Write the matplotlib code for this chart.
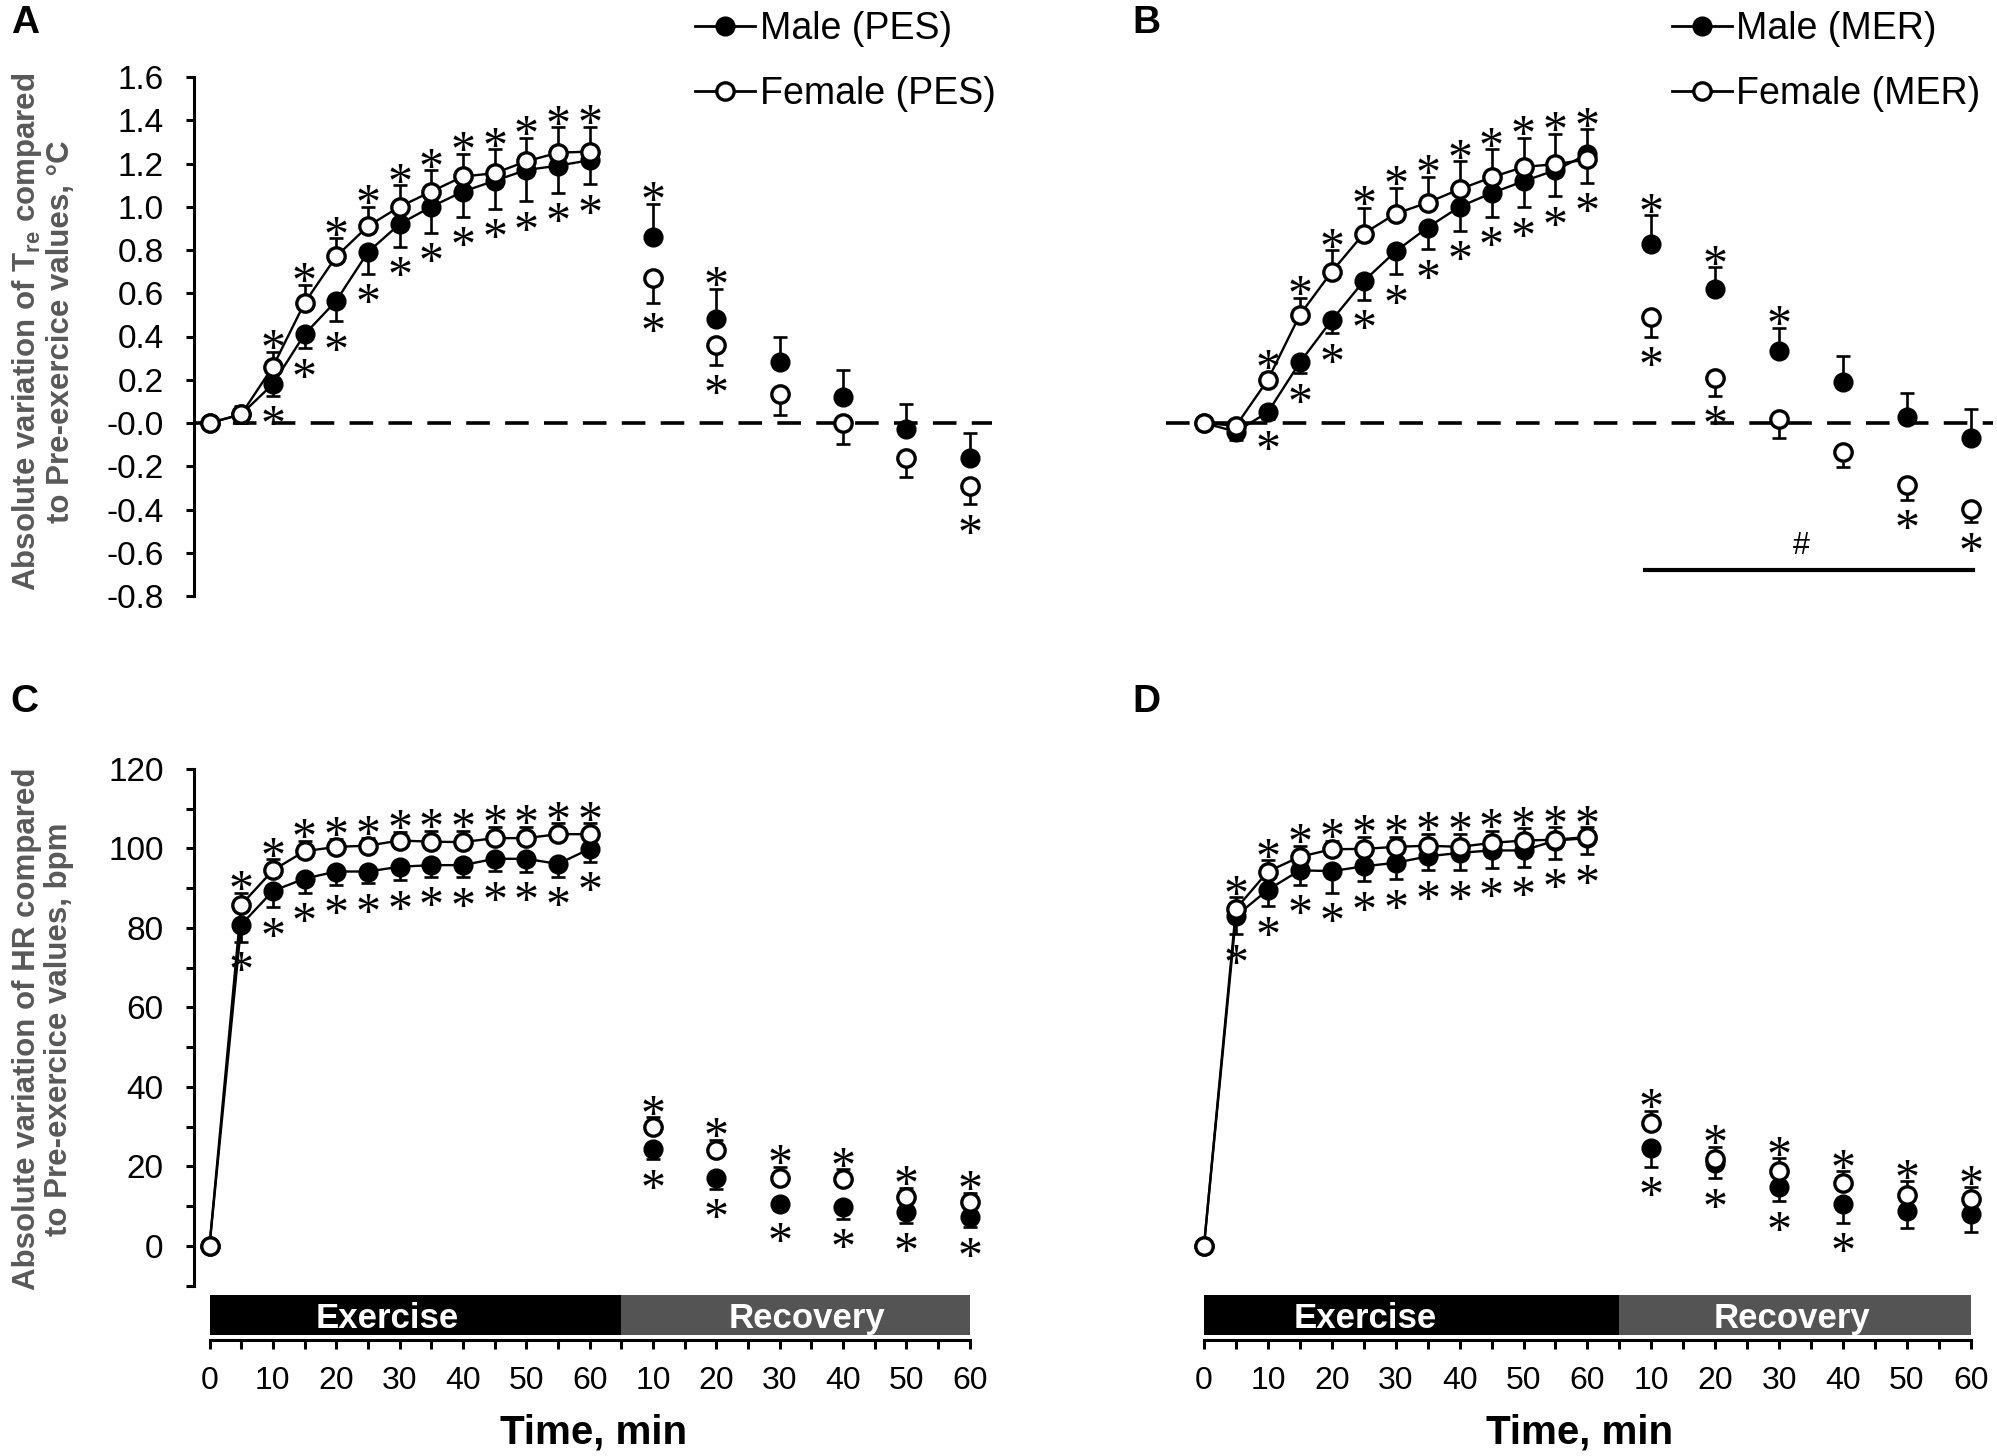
import matplotlib
matplotlib.use("Agg")
import matplotlib.pyplot as plt
from matplotlib.lines import Line2D
import numpy as np

plt.rcParams['font.family'] = ['Liberation Sans', 'DejaVu Sans']
plt.rcParams['axes.unicode_minus'] = False
plt.rcParams['lines.scale_dashes'] = False

# ---------------- data ----------------
ex_time = [0, 5, 10, 15, 20, 25, 30, 35, 40, 45, 50, 55, 60]
rec_time = [10, 20, 30, 40, 50, 60]

# Panel A: Tre, PES
male_pes_ex = [0, 0.04, 0.18, 0.41, 0.565, 0.79, 0.92, 1.00, 1.07, 1.12, 1.17, 1.19, 1.215]
female_pes_ex = [0, 0.04, 0.26, 0.555, 0.77, 0.91, 1.00, 1.07, 1.14, 1.155, 1.21, 1.25, 1.255]
male_pes_rec = [0.86, 0.48, 0.28, 0.12, -0.03, -0.16]
female_pes_rec = [0.67, 0.36, 0.134, 0.0, -0.16, -0.29]
male_pes_ex_se = [0, 0.04, 0.055, 0.065, 0.095, 0.10, 0.105, 0.12, 0.117, 0.13, 0.144, 0.125, 0.11]
female_pes_ex_se = [0, 0.04, 0.07, 0.085, 0.085, 0.09, 0.10, 0.10, 0.106, 0.11, 0.11, 0.117, 0.116]
male_pes_rec_se = [0.153, 0.14, 0.12, 0.125, 0.118, 0.114]
female_pes_rec_se = [0.115, 0.09, 0.097, 0.095, 0.09, 0.086]
male_pes_sig = [0, 0, 1, 1, 1, 1, 1, 1, 1, 1, 1, 1, 1] + [1, 1, 0, 0, 0, 0]
female_pes_sig = [0, 0, 1, 1, 1, 1, 1, 1, 1, 1, 1, 1, 1] + [1, 1, 0, 0, 0, 1]

# Panel B: Tre, MER
male_mer_ex = [0, -0.04, 0.05, 0.28, 0.476, 0.656, 0.794, 0.904, 1.0, 1.063, 1.118, 1.169, 1.243]
female_mer_ex = [0, -0.013, 0.20, 0.50, 0.70, 0.876, 0.968, 1.019, 1.081, 1.136, 1.184, 1.197, 1.219]
male_mer_rec = [0.83, 0.62, 0.332, 0.189, 0.027, -0.068]
female_mer_rec = [0.49, 0.21, 0.018, -0.132, -0.288, -0.398]
male_mer_ex_se = [0, 0.04, 0.03, 0.05, 0.06, 0.086, 0.107, 0.10, 0.11, 0.11, 0.12, 0.12, 0.115]
female_mer_ex_se = [0, 0.02, 0.03, 0.08, 0.10, 0.12, 0.12, 0.12, 0.13, 0.13, 0.136, 0.14, 0.108]
male_mer_rec_se = [0.13, 0.10, 0.108, 0.12, 0.11, 0.132]
female_mer_rec_se = [0.09, 0.085, 0.086, 0.073, 0.068, 0.06]
male_mer_sig = [0, 0, 1, 1, 1, 1, 1, 1, 1, 1, 1, 1, 1] + [1, 1, 1, 0, 0, 0]
female_mer_sig = [0, 0, 1, 1, 1, 1, 1, 1, 1, 1, 1, 1, 1] + [1, 1, 0, 0, 1, 1]

# Panel C: HR, PES
male_hr_pes_ex = [0, 80.8, 89.3, 92.4, 94.2, 94.2, 95.4, 95.8, 95.8, 97.4, 97.4, 96.1, 99.9]
female_hr_pes_ex = [0, 85.8, 94.5, 99.3, 100.4, 100.7, 102.0, 101.7, 101.6, 102.6, 102.6, 103.6, 103.6]
male_hr_pes_rec = [24.3, 17.0, 10.6, 9.7, 8.5, 7.2]
female_hr_pes_rec = [29.9, 24.0, 17.0, 16.8, 12.4, 10.9]
male_hr_pes_ex_se = [0, 4.3, 4.1, 3.5, 3.4, 3.0, 3.4, 2.9, 3.1, 3.1, 3.2, 3.2, 3.3]
female_hr_pes_ex_se = [0, 3.1, 2.8, 2.7, 2.0, 2.0, 2.2, 2.8, 2.9, 2.9, 2.9, 2.7, 2.7]
male_hr_pes_rec_se = [2.5, 2.7, 1.5, 2.9, 2.7, 2.6]
female_hr_pes_rec_se = [2.4, 2.7, 2.9, 2.5, 2.2, 2.5]
male_hr_pes_sig = [0] + [1] * 12 + [1, 1, 1, 1, 1, 1]
female_hr_pes_sig = [0] + [1] * 12 + [1, 1, 1, 1, 1, 1]

# Panel D: HR, MER
male_hr_mer_ex = [0, 83.0, 89.6, 94.5, 94.3, 95.5, 96.4, 98.0, 98.9, 99.5, 99.5, 102.0, 102.6]
female_hr_mer_ex = [0, 84.8, 94.2, 97.9, 99.8, 99.9, 100.4, 100.7, 100.4, 101.4, 102.0, 102.2, 102.9]
male_hr_mer_rec = [24.5, 20.8, 14.9, 10.6, 8.7, 8.1]
female_hr_mer_rec = [30.8, 21.8, 18.9, 15.9, 12.8, 11.8]
male_hr_mer_ex_se = [0, 4.6, 4.2, 3.7, 5.4, 3.8, 4.1, 3.5, 4.4, 4.4, 4.1, 4.6, 4.1]
female_hr_mer_ex_se = [0, 2.9, 2.8, 2.8, 2.2, 3.0, 2.5, 3.0, 3.3, 3.1, 3.1, 3.1, 2.4]
male_hr_mer_rec_se = [4.6, 3.8, 3.7, 4.8, 4.3, 4.7]
female_hr_mer_rec_se = [3.2, 3.1, 3.1, 2.8, 3.4, 2.9]
male_hr_mer_sig = [0] + [1] * 12 + [1, 1, 1, 1, 0, 0]
female_hr_mer_sig = [0] + [1] * 12 + [1, 1, 1, 1, 1, 1]

legend_a = ['Male (PES)', 'Female (PES)']
legend_b = ['Male (MER)', 'Female (MER)']
phase_labels = ['Exercise', 'Recovery']
ylabel_tre = 'Absolute variation of T$_{\\mathregular{re}}$ compared\nto Pre-exercice values, \u00b0C'
ylabel_hr = 'Absolute variation of HR compared\nto Pre-exercice values, bpm'
xlabel = 'Time, min'

# ---------------- figure ----------------
W, H = 1997, 1456
DPI = 100
fig = plt.figure(figsize=(W / DPI, H / DPI), dpi=DPI)

def px_axes(left, top, right, bottom):
    return fig.add_axes([left / W, 1 - bottom / H, (right - left) / W, (bottom - top) / H])

STEP = 5.0  # minutes per slot
ex_pos = np.array(ex_time) / STEP
n_ex = len(ex_time) - 1
rec_pos = n_ex + np.array(rec_time) / STEP
all_pos = np.concatenate([ex_pos, rec_pos])
last_slot = all_pos[-1]

YTICK_FS = 24
XTICK_FS = 23
STAR_FS = 36
MS = 12.5
LW = 1.7
GRAY = '#595959'


def draw_panel(ax, m_ex, f_ex, m_rec, f_rec, m_ex_se, f_ex_se, m_rec_se, f_rec_se,
               m_sig, f_sig, yrange):
    m = np.array(m_ex + m_rec, float)
    f = np.array(f_ex + f_rec, float)
    mse = np.array(m_ex_se + m_rec_se, float)
    fse = np.array(f_ex_se + f_rec_se, float)
    f_up = f >= m
    m_up = ~f_up
    for vals, se, up in [(m, mse, m_up), (f, fse, f_up)]:
        lower = np.where(up, 0, se)
        upper = np.where(up, se, 0)
        ax.errorbar(all_pos, vals, yerr=[lower, upper], fmt='none', ecolor='black',
                    elinewidth=LW + 0.2, capsize=5, capthick=LW + 0.2, zorder=2, clip_on=False)
    ne = len(m_ex)
    ax.plot(all_pos[:ne], m[:ne], '-', color='black', lw=LW, zorder=3, clip_on=False)
    ax.plot(all_pos[:ne], f[:ne], '-', color='black', lw=LW, zorder=3, clip_on=False)
    ax.plot(all_pos, m, 'o', ms=MS, mfc='black', mec='black', mew=2.0, zorder=4, clip_on=False)
    ax.plot(all_pos, f, 'o', ms=MS, mfc='white', mec='black', mew=2.4, zorder=5, clip_on=False)
    pos = ax.get_position()
    ax_h_px = pos.height * H
    pt_per_unit = ax_h_px / yrange * 72.0 / DPI
    r_pt = MS / 2.0
    for vals, se, up, sig in [(m, mse, m_up, m_sig), (f, fse, f_up, f_sig)]:
        for x, v, e, u, s in zip(all_pos, vals, se, up, sig):
            if not s:
                continue
            d = max(e * pt_per_unit, r_pt) + 11.5
            sgn = 1 if u else -1
            ax.annotate('*', xy=(x, v), xytext=(0, sgn * d - 0.55 * STAR_FS),
                        textcoords='offset points', ha='center', va='baseline',
                        fontsize=STAR_FS, family='Liberation Serif', zorder=6,
                        annotation_clip=False)


def style_top_left(ax):
    for s in ['top', 'right', 'bottom']:
        ax.spines[s].set_visible(False)
    ax.spines['left'].set_linewidth(2.2)
    ax.set_xticks([])
    ax.tick_params(axis='y', which='both', direction='out', length=6, width=2.2,
                   labelsize=YTICK_FS, pad=16)


def hide_all(ax):
    for s in ax.spines.values():
        s.set_visible(False)
    ax.set_xticks([])
    ax.set_yticks([])


def add_legend(labels, x0, y0):
    handles = [Line2D([], [], color='black', lw=LW + 0.3, marker='o', ms=MS, mfc='black', mec='black', mew=2.0),
               Line2D([], [], color='black', lw=LW + 0.3, marker='o', ms=MS, mfc='white', mec='black', mew=2.4)]
    fig.legend(handles, labels, loc='upper left', bbox_to_anchor=(x0 / W, 1 - y0 / H),
               frameon=False, fontsize=27, handlelength=1.6, handletextpad=0.12,
               labelspacing=0.78, borderpad=0, borderaxespad=0)


def add_timebar(left, right, xlim, ex_lab_x, rec_lab_x):
    axb = px_axes(left, 1295, right, 1335)
    axb.set_xlim(*xlim)
    axb.set_ylim(0, 1)
    axb.barh(0.5, n_ex + 1, left=0, height=1, color='black', edgecolor='none')
    axb.barh(0.5, last_slot - (n_ex + 1), left=n_ex + 1, height=1, color='#545454', edgecolor='none')
    axb.text(ex_lab_x, 0.42, phase_labels[0], color='white', fontsize=25, fontweight='bold',
             ha='center', va='center')
    axb.text(rec_lab_x, 0.42, phase_labels[1], color='white', fontsize=25, fontweight='bold',
             ha='center', va='center')
    for s in ['top', 'right', 'left']:
        axb.spines[s].set_visible(False)
    axb.spines['bottom'].set_position(('outward', 3.5))
    axb.spines['bottom'].set_bounds(0, last_slot)
    axb.spines['bottom'].set_linewidth(2.2)
    axb.set_yticks([])
    axb.set_xticks(np.arange(0, last_slot + 1))
    lab_map = {p: t for p, t in zip(all_pos, ex_time + rec_time)}
    tick_labels = []
    for k in range(int(last_slot) + 1):
        t = lab_map.get(float(k), None)
        tick_labels.append(str(t) if (t is not None and t % 10 == 0) else '')
    axb.set_xticklabels(tick_labels)
    axb.tick_params(axis='x', direction='out', length=6.5, width=2.2, labelsize=XTICK_FS, pad=12)
    axb.set_xlabel(xlabel, fontsize=29, fontweight='bold', labelpad=13)
    return axb


SPA = 31.68
SPB = 31.95
x0A = 209.5
x0B = 1204.0
LA = -0.48
LB = -1.2
RX = 24.7
TOP1, BOT1 = 77, 596
TOP2, BOT2 = 769, 1285.5

# ---- Panel A ----
axA = px_axes(x0A + LA * SPA, TOP1, x0A + RX * SPA, BOT1)
axA.set_xlim(LA, RX)
axA.set_ylim(-0.8, 1.6)
style_top_left(axA)
yt = np.round(np.arange(-0.8, 1.61, 0.2), 1)
axA.set_yticks(yt)
axA.set_yticklabels(['%.1f' % v for v in yt])
axA.axhline(0, color='black', lw=2.6, dashes=(17, 11), zorder=1)
draw_panel(axA, male_pes_ex, female_pes_ex, male_pes_rec, female_pes_rec,
           male_pes_ex_se, female_pes_ex_se, male_pes_rec_se, female_pes_rec_se,
           male_pes_sig, female_pes_sig, 2.4)
add_legend(legend_a, 695, 11)

# ---- Panel B ----
axB = px_axes(x0B + LB * SPB, TOP1, x0B + RX * SPB, BOT1)
axB.set_xlim(LB, RX)
axB.set_ylim(-0.8, 1.6)
hide_all(axB)
axB.axhline(0, color='black', lw=2.6, dashes=(17, 11), zorder=1)
draw_panel(axB, male_mer_ex, female_mer_ex, male_mer_rec, female_mer_rec,
           male_mer_ex_se, female_mer_ex_se, male_mer_rec_se, female_mer_rec_se,
           male_mer_sig, female_mer_sig, 2.4)
axB.plot([rec_pos[0] - 0.2, rec_pos[-1] + 0.06], [-0.68, -0.68], color='black', lw=3, clip_on=False)
axB.text((rec_pos[0] + rec_pos[-1]) / 2 - 0.3, -0.57, '#', fontsize=22, ha='center', va='center')
add_legend(legend_b, 1672, 11)

# ---- Panel C ----
axC = px_axes(x0A + LA * SPA, TOP2, x0A + RX * SPA, BOT2)
axC.set_xlim(LA, RX)
axC.set_ylim(-10, 120)
style_top_left(axC)
axC.set_yticks(np.arange(0, 121, 20))
axC.set_yticks(np.arange(-10, 120, 20), minor=True)
draw_panel(axC, male_hr_pes_ex, female_hr_pes_ex, male_hr_pes_rec, female_hr_pes_rec,
           male_hr_pes_ex_se, female_hr_pes_ex_se, male_hr_pes_rec_se, female_hr_pes_rec_se,
           male_hr_pes_sig, female_hr_pes_sig, 130)
add_timebar(x0A + LA * SPA, x0A + RX * SPA, (LA, RX), 5.6, 18.85)

# ---- Panel D ----
axD = px_axes(x0B + LB * SPB, TOP2, x0B + RX * SPB, BOT2)
axD.set_xlim(LB, RX)
axD.set_ylim(-10, 120)
hide_all(axD)
draw_panel(axD, male_hr_mer_ex, female_hr_mer_ex, male_hr_mer_rec, female_hr_mer_rec,
           male_hr_mer_ex_se, female_hr_mer_ex_se, male_hr_mer_rec_se, female_hr_mer_rec_se,
           male_hr_mer_sig, female_hr_mer_sig, 130)
add_timebar(x0B + LB * SPB, x0B + RX * SPB, (LB, RX), 5.05, 18.4)

# ---- y labels ----
fig.text(43 / W, 1 - 332 / H, ylabel_tre, rotation=90, ha='center', va='center',
         fontsize=22.5, fontweight='bold', color=GRAY, multialignment='center', linespacing=1.08)
fig.text(43 / W, 1 - 1029 / H, ylabel_hr, rotation=90, ha='center', va='center',
         fontsize=22.5, fontweight='bold', color=GRAY, multialignment='center', linespacing=1.08)

# ---- panel letters ----
for lab, x, y in [('A', 25, 23), ('B', 1146, 23), ('C', 24, 702), ('D', 1146, 702)]:
    fig.text(x / W, 1 - y / H, lab, fontsize=28, fontweight='bold', ha='center', va='center')

fig.savefig('out.png', dpi=DPI)
